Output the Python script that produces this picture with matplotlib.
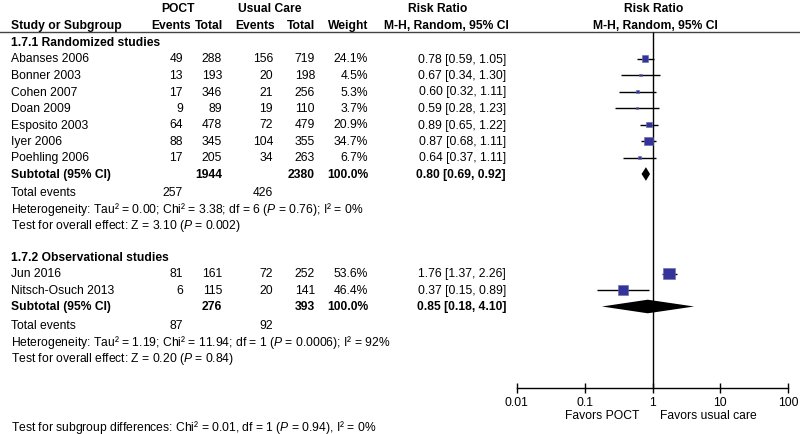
import numpy as np
import matplotlib
matplotlib.use("Agg")
import matplotlib.pyplot as plt
from matplotlib.ticker import NullLocator

plt.rcParams["font.family"] = ["Liberation Sans", "DejaVu Sans"]
plt.rcParams["mathtext.fontset"] = "custom"
plt.rcParams["mathtext.rm"] = "Liberation Sans"
plt.rcParams["mathtext.it"] = "Liberation Sans:italic"
plt.rcParams["mathtext.bf"] = "Liberation Sans:bold"

# 1.7.1 Randomized studies
rand_names = ["Abanses 2006", "Bonner 2003", "Cohen 2007", "Doan 2009",
              "Esposito 2003", "Iyer 2006", "Poehling 2006"]
rand_poct_ev = [49, 13, 17, 9, 64, 88, 17]
rand_poct_tot = [288, 193, 346, 89, 478, 345, 205]
rand_uc_ev = [156, 20, 21, 19, 72, 104, 34]
rand_uc_tot = [719, 198, 256, 110, 479, 355, 263]
rand_weight = [24.1, 4.5, 5.3, 3.7, 20.9, 34.7, 6.7]
rand_rr = [0.78, 0.67, 0.60, 0.59, 0.89, 0.87, 0.64]
rand_lo = [0.59, 0.34, 0.32, 0.28, 0.65, 0.68, 0.37]
rand_hi = [1.05, 1.30, 1.11, 1.23, 1.22, 1.11, 1.11]
rand_sub = [0.80, 0.69, 0.92]
rand_het = "Heterogeneity: Tau² = 0.00; Chi² = 3.38; df = 6 ($\\mathit{P}$ = 0.76); I² = 0%"
rand_test = "Test for overall effect: Z = 3.10 ($\\mathit{P}$ = 0.002)"

# 1.7.2 Observational studies
obs_names = ["Jun 2016", "Nitsch-Osuch 2013"]
obs_poct_ev = [81, 6]
obs_poct_tot = [161, 115]
obs_uc_ev = [72, 20]
obs_uc_tot = [252, 141]
obs_weight = [53.6, 46.4]
obs_rr = [1.76, 0.37]
obs_lo = [1.37, 0.15]
obs_hi = [2.26, 0.89]
obs_sub = [0.85, 0.18, 4.10]
obs_het = "Heterogeneity: Tau² = 1.19; Chi² = 11.94; df = 1 ($\\mathit{P}$ = 0.0006); I² = 92%"
obs_test = "Test for overall effect: Z = 0.20 ($\\mathit{P}$ = 0.84)"

subgroup_test = "Test for subgroup differences: Chi² = 0.01, df = 1 ($\\mathit{P}$ = 0.94), I² = 0%"
ticks = [0.01, 0.1, 1, 10, 100]
tick_labels = ["0.01", "0.1", "1", "10", "100"]

FS = 8.7
SQ_COLOR = "#333399"

# column anchors (pixels)
X_NAME = 11
X_PEV, X_PTOT, X_UEV, X_UTOT, X_W, X_RR = 183, 222, 273, 315, 368, 506
ROW = 16.5

fig = plt.figure(figsize=(8, 4.35), dpi=100)
ax = fig.add_axes([0, 0, 1, 1])
ax.set_xlim(0, 800)
ax.set_ylim(435, 0)
ax.axis("off")

fa = fig.add_axes([516.7 / 800, 0, 271.6 / 800, 1])
fa.set_xscale("log")
fa.set_xlim(0.01, 100)
fa.set_ylim(435, 0)
fa.patch.set_visible(False)
for s in ["top", "left", "right"]:
    fa.spines[s].set_visible(False)
fa.spines["bottom"].set_position(("data", 389))
fa.spines["bottom"].set_linewidth(1)
fa.set_xticks(ticks)
fa.set_xticklabels(tick_labels)
fa.xaxis.set_minor_locator(NullLocator())
fa.tick_params(axis="x", direction="inout", length=7, width=1, pad=2.5, labelsize=FS)
fa.set_yticks([])


def txt(x, y, s, ha="left", bold=False):
    ax.text(x, y, s, ha=ha, va="center", fontsize=FS,
            fontweight="bold" if bold else "normal")


# headers
txt(178.5, 9, "POCT", ha="center", bold=True)
txt(270, 9, "Usual Care", ha="center", bold=True)
txt(438, 9, "Risk Ratio", ha="center", bold=True)
txt(654, 9, "Risk Ratio", ha="center", bold=True)
txt(X_NAME, 26, "Study or Subgroup", bold=True)
txt(191, 26, "Events", ha="right", bold=True)
txt(X_PTOT + 1, 26, "Total", ha="right", bold=True)
txt(275, 26, "Events", ha="right", bold=True)
txt(X_UTOT, 26, "Total", ha="right", bold=True)
txt(X_W, 26, "Weight", ha="right", bold=True)
txt(446, 26, "M-H, Random, 95% CI", ha="center", bold=True)
txt(655, 26, "M-H, Random, 95% CI", ha="center", bold=True)
ax.axhline(32.5, color="#444444", lw=1)
fa.vlines(1, 32.5, 389, color="black", lw=1)


def draw_group(title, y_title, names, pev, ptot, uev, utot, w, rr, lo, hi, sub, het, test):
    txt(X_NAME, y_title, title, bold=True)
    ys = y_title + ROW * np.arange(1, len(names) + 1)
    for i, y in enumerate(ys):
        txt(X_NAME, y, names[i])
        txt(X_PEV, y, str(pev[i]), ha="right")
        txt(X_PTOT, y, str(ptot[i]), ha="right")
        txt(X_UEV, y, str(uev[i]), ha="right")
        txt(X_UTOT, y, str(utot[i]), ha="right")
        txt(X_W, y, f"{w[i]:.1f}%", ha="right")
        txt(X_RR, y, f"{rr[i]:.2f} [{lo[i]:.2f}, {hi[i]:.2f}]", ha="right")
    fa.hlines(ys, lo, hi, color="black", lw=1, clip_on=False)
    side_px = 2 + 0.18 * np.array(w)
    fa.scatter(rr, ys, marker="s", s=(side_px * 0.72) ** 2, color=SQ_COLOR,
               linewidths=0.4, edgecolors="#6666aa", zorder=3, clip_on=False)
    ysub = ys[-1] + ROW
    txt(X_NAME, ysub, "Subtotal (95% CI)", bold=True)
    txt(X_PTOT, ysub, str(sum(ptot)), ha="right", bold=True)
    txt(X_UTOT, ysub, str(sum(utot)), ha="right", bold=True)
    txt(X_W, ysub, "100.0%", ha="right", bold=True)
    txt(X_RR, ysub, f"{sub[0]:.2f} [{sub[1]:.2f}, {sub[2]:.2f}]", ha="right", bold=True)
    h = 6.8
    fa.fill([sub[1], sub[0], sub[2], sub[0]], [ysub, ysub - h, ysub, ysub + h],
            color="black", lw=0, clip_on=False)
    y2 = ysub + 18.5
    txt(X_NAME, y2, "Total events")
    txt(X_PEV, y2, str(sum(pev)), ha="right")
    txt(X_UEV, y2, str(sum(uev)), ha="right")
    txt(X_NAME, y2 + ROW, het)
    txt(X_NAME, y2 + 2 * ROW, test)


draw_group("1.7.1 Randomized studies", 43, rand_names, rand_poct_ev, rand_poct_tot,
           rand_uc_ev, rand_uc_tot, rand_weight, rand_rr, rand_lo, rand_hi,
           rand_sub, rand_het, rand_test)
draw_group("1.7.2 Observational studies", 258, obs_names, obs_poct_ev, obs_poct_tot,
           obs_uc_ev, obs_uc_tot, obs_weight, obs_rr, obs_lo, obs_hi,
           obs_sub, obs_het, obs_test)

txt(639, 416, "Favors POCT", ha="right")
txt(660, 416, "Favors usual care")
txt(X_NAME, 428, subgroup_test)

fig.savefig("out.png", dpi=100)
